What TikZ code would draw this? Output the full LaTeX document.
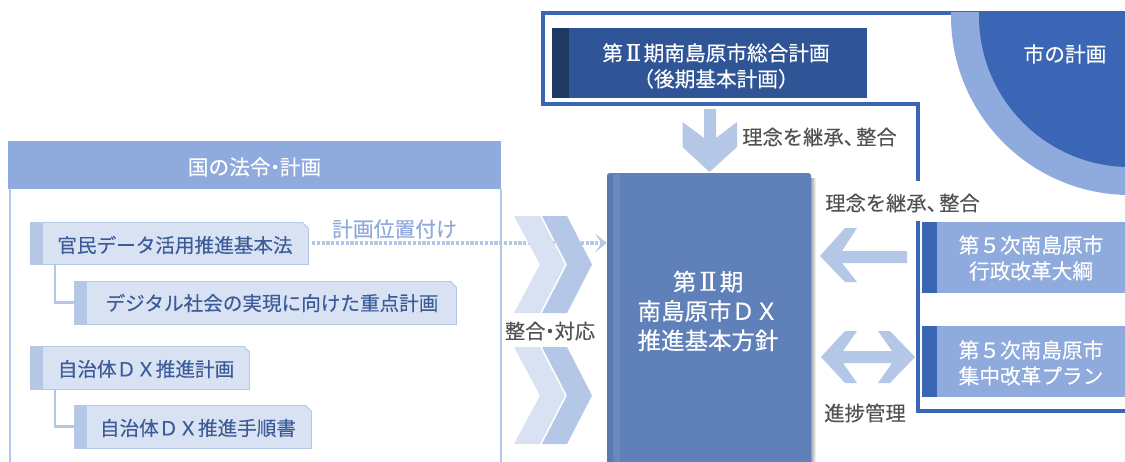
\documentclass[tikz,border=0pt]{standalone}
\usepackage{fontspec}
\setmainfont[FakeBold=0.25]{Noto Sans CJK JP}
\newfontfamily\romanfont[FakeBold=0.25,Scale=1.1]{DejaVu Serif}
\usetikzlibrary{arrows.meta,calc}
\definecolor{frameblue}{HTML}{3A66B5}
\definecolor{midblue}{HTML}{8FAADC}
\definecolor{softblue}{HTML}{B4C7E7}
\definecolor{paleblue}{HTML}{D9E2F3}
\definecolor{navy}{HTML}{2F5597}
\definecolor{deepnavy}{HTML}{203864}
\definecolor{bookblue}{HTML}{5F80B9}
\definecolor{boxtext}{HTML}{3B5C98}
\definecolor{labelgray}{HTML}{525252}
\newcommand{\narrowdot}{\makebox[0.45em][c]{・}}
\newcommand{\narrowcomma}{\makebox[0.62em][l]{、}}
\newcommand{\romantwo}{\makebox[1em][c]{\romanfont Ⅱ}}
\tikzset{
  x=0.75pt,y=-0.75pt,
  lbox/.style={fill=paleblue,draw=softblue,line width=0.6pt,inner sep=0pt,outer sep=0pt},
  ltext/.style={text=boxtext,inner sep=0pt,font=\fontsize{14.7pt}{18pt}\selectfont},
  gray label/.style={text=labelgray,inner sep=0pt,font=\fontsize{15.2pt}{18pt}\selectfont},
  white label/.style={text=white,inner sep=0pt,align=center,font=\fontsize{15.5pt}{19.4pt}\selectfont},
  rbox/.style={fill=midblue,inner sep=0pt,outer sep=0pt,minimum width=152.25pt,minimum height=53.25pt,anchor=north west},
  framepath/.style={draw=frameblue,line width=2.3pt,line join=miter},
  link/.style={draw=softblue,line width=1.8pt},
}
\begin{document}
\begin{tikzpicture}
\useasboundingbox (0,0) rectangle (1125,461);
\clip (0,0) rectangle (1125,461);
\fill[white] (0,0) rectangle (1125,461);

% --- right frame
\coordinate (fa) at (1125,13);
\coordinate (fb) at (543,13);
\coordinate (fc) at (543,104);
\coordinate (fd) at (918,104);
\coordinate (fe) at (918,181);
\coordinate (ff) at (918,221);
\coordinate (fg) at (918,411);
\coordinate (fh) at (1125,411);
\draw[framepath] (fa) -- (fb) -- (fc) -- (fd) -- (fe);
\draw[framepath] (ff) -- (fg) -- (fh);

% --- city circle
\begin{scope}
\clip (900,12) rectangle (1125,230);
\fill[midblue] (1130,16) circle[radius=134.25pt];
\fill[frameblue] (1130,16) circle[radius=113.25pt];
\end{scope}
\node[white label] (city) at (1065,54) {市の計画};

% --- top plan box
\node[fill=navy,inner sep=0pt,outer sep=0pt,minimum width=236.25pt,minimum height=52.5pt,anchor=north west] (plan) at (552,28) {};
\fill[deepnavy] (plan.north west) rectangle ($(plan.south west)+(17,0)$);
\node[white label] (plantext) at (716,66) {第\romantwo 期南島原市総合計画\\（後期基本計画）};

% --- right boxes
\node[rbox] (r1) at (922,222) {};
\fill[frameblue] (r1.north west) rectangle ($(r1.south west)+(15,0)$);
\node[white label] (r1text) at (1031,258) {第５次南島原市\\行政改革大綱};
\node[rbox] (r2) at (922,326) {};
\fill[frameblue] (r2.north west) rectangle ($(r2.south west)+(15,0)$);
\node[white label] (r2text) at (1031,363) {第５次南島原市\\集中改革プラン};

% --- national panel
\draw[softblue,line width=1.8pt] (10,189) -- (10,470);
\draw[softblue,line width=1.8pt] (501,189) -- (501,470);
\node[fill=midblue,inner sep=0pt,outer sep=0pt,minimum width=369.75pt,minimum height=36pt,anchor=north west] (head) at (8,141) {};
\node[white label] (headtext) at (254.5,167) {国の法令\narrowdot 計画};

% --- boxes on the left
\node[lbox,minimum width=208.5pt,minimum height=31.5pt,anchor=north west] (b1) at (30,222) {};
\node[lbox,minimum width=286.5pt,minimum height=32.25pt,anchor=north west] (b2) at (74,281) {};
\node[lbox,minimum width=164.6pt,minimum height=32.25pt,anchor=north west] (b3) at (30,346) {};
\node[lbox,minimum width=177.75pt,minimum height=32.25pt,anchor=north west] (b4) at (74,405) {};
\coordinate (c1) at (55,264);
\coordinate (c2) at (55,389);
\draw[link] (c1) |- (b2.west);
\draw[link] (c2) |- (b4.west);
\foreach \b in {b1,b2,b3,b4}{
  \fill[softblue] (\b.north west) rectangle ($(\b.south west)+(13,0)$);
  % chamfer of the top right corner
  \fill[white] ($(\b.north east)+(-6,-1)$) -- ($(\b.north east)+(1,-1)$) -- ($(\b.north east)+(1,6)$) -- cycle;
  \draw[softblue,line width=0.6pt] ($(\b.north east)+(-6,0)$) -- ($(\b.north east)+(0,6)$);
}
\node[ltext] (t1) at (175,245) {官民データ活用推進基本法};
\node[ltext] (t2) at (272,303) {デジタル社会の実現に向けた重点計画};
\node[ltext] (t3) at (146,369) {自治体ＤＸ推進計画};
\node[ltext] (t4) at (198,428) {自治体ＤＸ推進手順書};

% --- book
\shade[left color=black!35,right color=white] (811,178) rectangle (816,470);
\node[fill=bookblue,rounded corners=2pt,inner sep=0pt,outer sep=0pt,minimum width=153pt,minimum height=230pt,anchor=north west] (book) at (607,173) {};
\fill[black,opacity=0.05] (607,175) rectangle (613,470);
\fill[white,opacity=0.07] (613,174) rectangle (620,470);
\node[white label,font=\fontsize{17.6pt}{22pt}\selectfont] (booktext) at (708,311) {第\romantwo 期\\南島原市ＤＸ\\推進基本方針};

% --- dotted link
\draw[softblue,line width=2.8pt,dash pattern=on 2.4pt off 1.2pt,shorten <=3pt,
  -{Stealth[length=9pt,width=14pt,inset=5pt,color=softblue]}] (b1.east) -- (b1.east -| book.west);
\node[text=midblue,inner sep=0pt,font=\fontsize{15.6pt}{18pt}\selectfont] (plc) at (394.5,229) {計画位置付け};

% --- chevrons
\foreach \yt/\name in {216/ca,347/cb}{
  \fill[paleblue] (514,\yt) -- (540,\yt) -- (565,\yt+48.5) -- (540,\yt+97) -- (514,\yt+97) -- (540,\yt+48.5) -- cycle;
  \fill[softblue] (542,\yt) -- (567,\yt) -- (592,\yt+48.5) -- (567,\yt+97) -- (542,\yt+97) -- (567,\yt+48.5) -- cycle;
}
\node[gray label] (adj) at (550,331) {整合\narrowdot 対応};

% --- block arrows
\fill[softblue] (704,109) -- (716,109) -- (716,138) -- (737,122) -- (737,147) -- (709.5,172) -- (682.5,147) -- (682.5,122) -- (704,138) -- cycle;
\node[gray label] (lab1) at (819.5,137) {理念を継承\narrowcomma 整合};
\node[gray label] (lab2) at (902.5,203) {理念を継承\narrowcomma 整合};
\fill[softblue] (820,256) -- (845,228) -- (857,228) -- (842,251) -- (907,251) -- (907,263) -- (842,263) -- (857,282) -- (845,282) -- cycle;
\fill[softblue] (821,357) -- (845,331) -- (857,331) -- (843,351) -- (892,351) -- (878,331) -- (890,331) -- (915,357) -- (890,383) -- (878,383) -- (892,363) -- (843,363) -- (857,383) -- (845,383) -- cycle;
\node[gray label,font=\fontsize{15.3pt}{18pt}\selectfont] (lab3) at (865,413) {進捗管理};
\end{tikzpicture}
\end{document}
